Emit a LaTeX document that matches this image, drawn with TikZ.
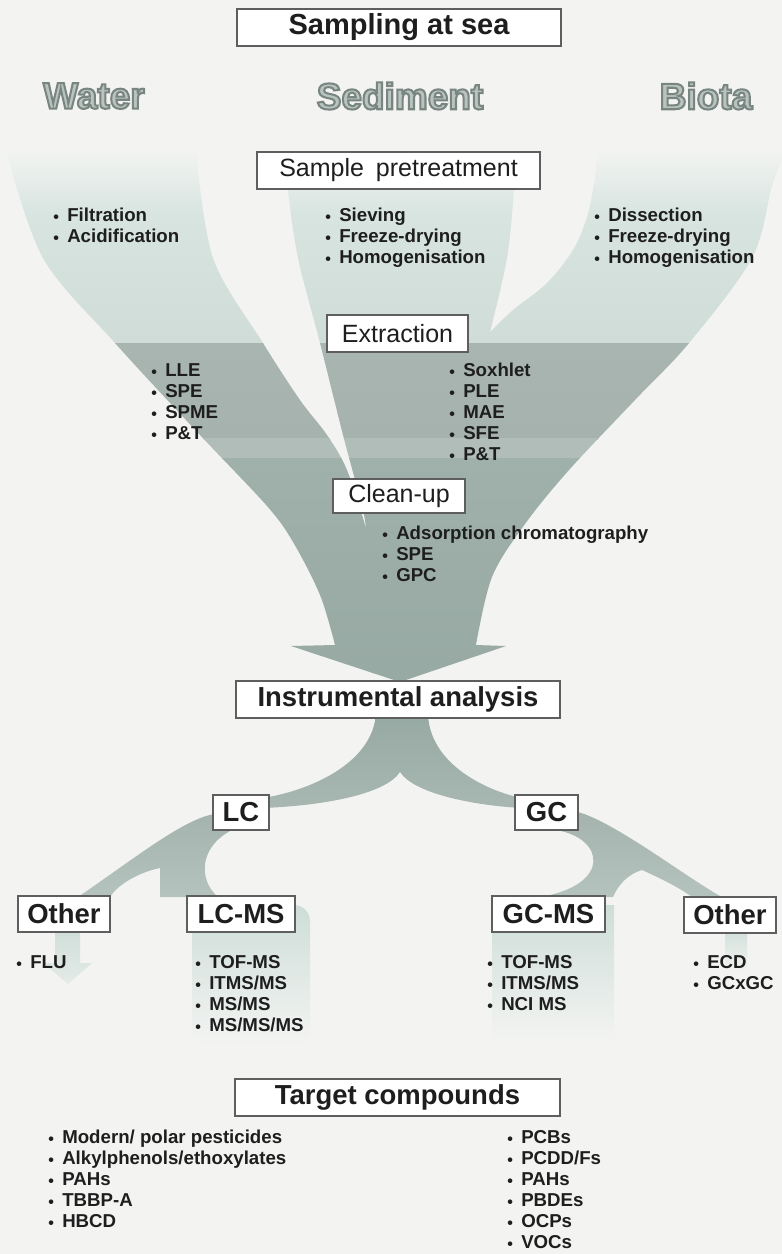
\documentclass[tikz,border=0pt]{standalone}
\usepackage{fontspec}
\setmainfont{Liberation Sans}
% bold face stroked along its outline, used for the three sample types
\newfontface\outlinefont{Liberation Sans Bold}[FakeBold=5.5]

\definecolor{pagebg}{HTML}{F3F4F2}
\definecolor{boxline}{HTML}{5E5E5E}
\definecolor{txt}{HTML}{1E1E1E}
\definecolor{lighttop}{HTML}{D7E4E0}
\definecolor{lightlow}{HTML}{CFDCD8}
\definecolor{midgray}{HTML}{A9B5B0}
\definecolor{midgraylow}{HTML}{A5B2AD}
\definecolor{midband}{HTML}{B1BDB8}
\definecolor{darkteal}{HTML}{A0B0AA}
\definecolor{darkest}{HTML}{97A9A3}
\definecolor{treelow}{HTML}{A8B7B2}
\definecolor{subtop}{HTML}{A4B3AE}
\definecolor{sublow}{HTML}{B5C3BE}
\definecolor{paletop}{HTML}{CEDDD8}
\definecolor{fillt}{HTML}{B9C3BF}

% one bullet item of a list
\newcommand{\itm}[1]{\hbox{\makebox[10.5pt][l]{\raisebox{-0.9pt}{\fontsize{12}{12}\selectfont •}}#1}}
% light letters with a darker stroked rim
\newcommand{\rimtext}[1]{{\outlinefont\textcolor{fillt}{\special{pdf:literal direct 0.47 0.52 0.50 RG}#1}}}

\begin{document}
\begin{tikzpicture}[x=0.75pt, y=-0.75pt,
  boxnode/.style={draw=boxline, fill=white, line width=0.8pt, inner sep=0pt, text=txt},
  headbold/.style={boxnode, font=\fontsize{20.6}{22}\selectfont\bfseries},
  headreg/.style={boxnode, font=\fontsize{18.75}{20}\selectfont},
  lst/.style={inner sep=0pt, anchor=base west, text=txt, font=\fontsize{14}{15.75}\selectfont\bfseries},
  matter/.style={inner sep=0pt, font=\fontsize{27.75}{30}\selectfont}]

\useasboundingbox (0,0) rectangle (782,1254);
\fill[pagebg] (0,0) rectangle (782,1254);

% the three sample streams merging into one arrow
\begin{scope}
\clip (6,150) -- (196,150)
  -- plot[smooth,tension=0.55] coordinates {(196,150) (213,258) (263,343) (300,400) (327,435) (347,470) (366,528)}
  -- plot[smooth,tension=0.55] coordinates {(366,528) (362,506) (343,435) (320,343) (298,258) (288,190) (286,150)}
  -- (516,150)
  -- plot[smooth,tension=0.55] coordinates {(516,150) (514,190) (507,258) (490,332)}
  -- plot[smooth,tension=0.55] coordinates {(490,332) (513,310) (547,283) (573,250) (587,217) (594,183) (598,150)}
  -- (786,150)
  -- plot[smooth,tension=0.55] coordinates {(786,150) (772,186) (752,258) (689,343) (635,400) (569,470) (525,524) (492,577) (476,645)}
  -- (506,646) -- (400,682) -- (291,646) -- (335,645)
  -- plot[smooth,tension=0.55] coordinates {(335,645) (320,595) (293,542) (267,506) (200,435) (115,343) (43,258) (6,150)}
  -- cycle;
\shade[top color=pagebg, bottom color=lighttop] (0,148) rectangle (782,216);
\shade[top color=lighttop, bottom color=lightlow] (0,215) rectangle (782,344);
\shade[top color=midgray, bottom color=midgraylow] (0,343) rectangle (782,439);
\fill[midband] (0,438) rectangle (782,459);
\shade[top color=darkteal, bottom color=darkest] (0,458) rectangle (782,700);
\end{scope}

% split of the analysis into LC and GC
\shade[top color=darkest, bottom color=treelow]
  (376,712) .. controls (374,765) and (305,792) .. (262,798) -- (262,808)
  .. controls (320,806) and (385,795) .. (400,772)
  .. controls (415,795) and (480,806) .. (522,808) -- (522,798)
  .. controls (490,792) and (428,765) .. (428,712) -- cycle;

% LC branches
\shade[top color=subtop, bottom color=sublow]
  (226,820) -- (236,828) .. controls (198,845) and (198,880) .. (218,897)
  -- (160,897) -- (160,868) .. controls (140,872) and (118,884) .. (110,897)
  -- (78,897) .. controls (135,858) and (185,818) .. (215,814) -- cycle;

% GC branches
\shade[top color=subtop, bottom color=sublow]
  (560,820) -- (556,830) .. controls (605,838) and (612,885) .. (540,897)
  -- (613,897) .. controls (618,885) and (628,874) .. (642,870)
  .. controls (660,878) and (680,888) .. (692,897)
  -- (722,897) .. controls (690,880) and (615,822) .. (578,812) -- (560,812) -- cycle;

% pale streams below the detector boxes
\shade[top color=paletop, bottom color=pagebg, rounded corners=12pt]
  (192,1045) -- (192,905) -- (310,905) -- (310,1045) -- cycle;
\shade[top color=paletop, bottom color=pagebg]
  (492,1042) -- (492,905) -- (614,905) -- (614,1042) -- cycle;
\shade[top color=paletop, bottom color=pagebg!60!paletop]
  (55,925) -- (55,963) -- (43,963) -- (68,984) -- (92,963) -- (80,963) -- (80,925) -- cycle;
\shade[top color=paletop, bottom color=pagebg]
  (725,925) rectangle (747,972);

% sample types
\node[matter] (water) at (94,96) {\rimtext{Water}};
\node[matter] (sediment) at (400,96) {\rimtext{Sediment}};
\node[matter] (biota) at (706,96) {\rimtext{Biota}};

% stage boxes
\node[headbold, font=\fontsize{21.75}{23}\selectfont\bfseries, minimum width=243pt, minimum height=27.75pt] (samp) at (399,27.5) {Sampling at sea};
\node[headreg, minimum width=212.25pt, minimum height=27.75pt] (pre) at (398.5,170.5) {Sample\hspace{0.48em}pretreatment};
\node[headreg, minimum width=105.75pt, minimum height=27.75pt] (ext) at (397.5,333.5) {Extraction};
\node[headreg, minimum width=99pt, minimum height=25.5pt] (cln) at (399,496) {Clean-up};
\node[headbold, minimum width=243pt, minimum height=27.75pt] (ins) at (398,699.5) {Instrumental analysis};
\node[headbold, minimum width=42pt, minimum height=26.25pt] (lc) at (241,812.5) {LC};
\node[headbold, minimum width=47.25pt, minimum height=26.25pt] (gc) at (546.5,812.5) {GC};
\node[headbold, minimum width=69pt, minimum height=27pt] (oth1) at (64,914) {Other};
\node[headbold, minimum width=81pt, minimum height=27pt] (lcms) at (241,914) {LC-MS};
\node[headbold, minimum width=84.75pt, minimum height=27pt] (gcms) at (548.5,914) {GC-MS};
\node[headbold, minimum width=69pt, minimum height=27pt] (oth2) at (730,915) {Other};
\node[headbold, minimum width=243.75pt, minimum height=27.75pt] (tgt) at (397.5,1097.5) {Target compounds};

% method lists
\node[lst] (wlist) at (53,221.7) {\vtop{\itm{Filtration}\itm{Acidification}}};
\node[lst] (slist) at (325,221) {\vtop{\itm{Sieving}\itm{Freeze-drying}\itm{Homogenisation}}};
\node[lst] (blist) at (594,221) {\vtop{\itm{Dissection}\itm{Freeze-drying}\itm{Homogenisation}}};
\node[lst] (exl) at (151,376.7) {\vtop{\itm{LLE}\itm{SPE}\itm{SPME}\itm{P\&T}}};
\node[lst] (exr) at (449,376.7) {\vtop{\itm{Soxhlet}\itm{PLE}\itm{MAE}\itm{SFE}\itm{P\&T}}};
\node[lst] (clist) at (382,539.7) {\vtop{\itm{Adsorption chromatography}\itm{SPE}\itm{GPC}}};
\node[lst] (flu) at (16,968.7) {\vtop{\itm{FLU}}};
\node[lst] (lclist) at (195,968.7) {\vtop{\itm{TOF-MS}\itm{ITMS/MS}\itm{MS/MS}\itm{MS/MS/MS}}};
\node[lst] (gclist) at (487,968.7) {\vtop{\itm{TOF-MS}\itm{ITMS/MS}\itm{NCI MS}}};
\node[lst] (odlist) at (693,968.7) {\vtop{\itm{ECD}\itm{GCxGC}}};
\node[lst] (tlist) at (48,1143.5) {\vtop{\itm{Modern/ polar pesticides}\itm{Alkylphenols/ethoxylates}\itm{PAHs}\itm{TBBP-A}\itm{HBCD}}};
\node[lst] (trlist) at (507,1143.5) {\vtop{\itm{PCBs}\itm{PCDD/Fs}\itm{PAHs}\itm{PBDEs}\itm{OCPs}\itm{VOCs}}};
\end{tikzpicture}
\end{document}
